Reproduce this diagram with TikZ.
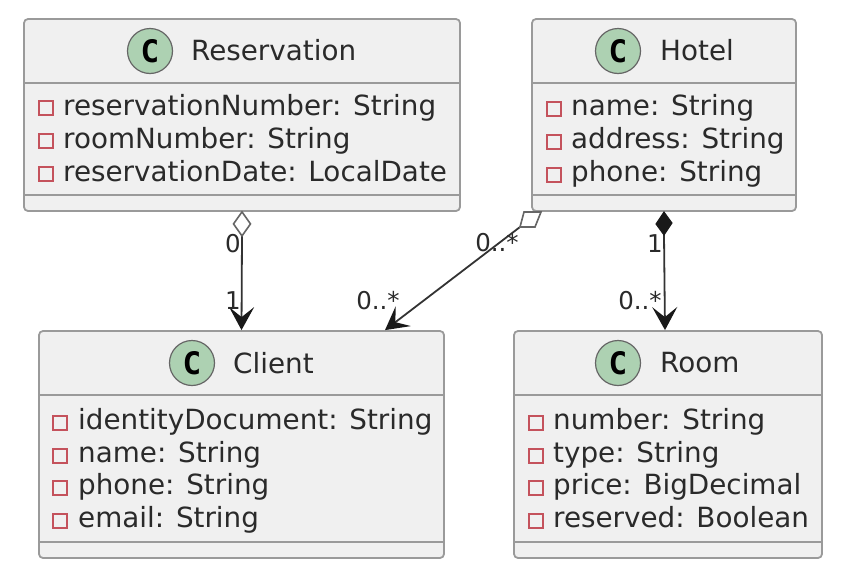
\documentclass[tikz,border=0pt]{standalone}
\usepackage{fontspec}
\setmainfont{DejaVu Sans}
\newfontfamily\spotfont{DejaVu Sans Mono}
\usetikzlibrary{arrows.meta}
\definecolor{boxfill}{HTML}{F0F0F0}
\definecolor{boxline}{HTML}{9A9A9A}
\definecolor{spotfill}{HTML}{ADD1B2}
\definecolor{privred}{HTML}{C4525C}
\definecolor{inktext}{HTML}{2A2A2A}
\tikzset{
    classbox/.style={draw=boxline, fill=boxfill, line width=1.8pt, rounded corners=4pt, inner sep=0pt},
    spot/.style={circle, draw=black!60, fill=spotfill, line width=1.2pt, minimum size=45pt, inner sep=0pt, font=\fontsize{31}{31}\spotfont\bfseries, text=black},
    title/.style={anchor=west, inner sep=0pt, text=inktext, font=\fontsize{27.8}{32}\selectfont},
    member/.style={anchor=base west, inner sep=0pt, text=inktext, font=\fontsize{27.8}{32}\selectfont},
    priv/.style={draw=privred, line width=1.6pt, minimum size=14pt, inner sep=0pt},
    mult/.style={inner sep=0pt, text=inktext, font=\fontsize{24.5}{28}\selectfont},
    rel/.style={draw=black!80, line width=1.8pt},
    head/.style={-{Stealth[length=23pt, width=25pt, inset=10pt, color=black!90]}},
    aggr/.style={draw=black!60, fill=white, line width=1.6pt},
    comp/.style={draw=black!90, fill=black!90, line width=1pt}
}
% box: name, left, top, right, bottom
\newcommand{\umlbox}[5]{
    \node[classbox, minimum width=#4pt-#2pt, minimum height=#5pt-#3pt] (#1) at ({(#2+#4)/2}, {-(#3+#5)/2}) {};
    \draw[boxline, line width=1.8pt] (#1.west |- 0,{-#3-64}) -- (#1.east |- 0,{-#3-64});
    \draw[boxline, line width=1.8pt] (#1.west |- 0,{-#5+16}) -- (#1.east |- 0,{-#5+16});
}
\begin{document}
\begin{tikzpicture}[x=1pt, y=1pt]
    \useasboundingbox (0,0) rectangle (844,-576);

    % classes
    \umlbox{reservation}{24}{19}{460}{211}
    \umlbox{hotel}{532}{19}{796}{211}
    \umlbox{client}{39}{331}{444}{558}
    \umlbox{room}{514}{331}{822}{558}

    \node[spot] (reservationSpot) at (150,-51) {C};
    \node[title] (reservationTitle) at (191,-50) {Reservation};
    \node[spot] (hotelSpot) at (618,-51) {C};
    \node[title] (hotelTitle) at (660,-50) {Hotel};
    \node[spot] (clientSpot) at (192,-363) {C};
    \node[title] (clientTitle) at (233,-363) {Client};
    \node[spot] (roomSpot) at (618,-363) {C};
    \node[title] (roomTitle) at (660,-363) {Room};

    % members
    \foreach \n/\y/\txt in {a/115/reservationNumber: String, b/148/roomNumber: String, c/181/reservationDate: LocalDate} {
        \node[priv] (reservationIcon\n) at (46,-\y+7) {};
        \node[member] (reservationMember\n) at (63,-\y) {\txt};
    }
    \foreach \n/\y/\txt in {a/115/name: String, b/148/address: String, c/181/phone: String} {
        \node[priv] (hotelIcon\n) at (554,-\y+6) {};
        \node[member] (hotelMember\n) at (571,-\y) {\txt};
    }
    \foreach \n/\y/\txt in {a/429/identityDocument: String, b/462/name: String, c/494/phone: String, d/527/email: String} {
        \node[priv] (clientIcon\n) at (60,-\y+6) {};
        \node[member] (clientMember\n) at (78,-\y) {\txt};
    }
    \foreach \n/\y/\txt in {a/429/number: String, b/462/type: String, c/494/price: BigDecimal, d/527/reserved: Boolean} {
        \node[priv] (roomIcon\n) at (536,-\y+6) {};
        \node[member] (roomMember\n) at (553,-\y) {\txt};
    }

    % relations
    \coordinate (resDiamond) at ([yshift=-24pt]reservation.south);
    \coordinate (hotelDiamond) at (520,-227);
    \coordinate (roomDiamond) at (664,-235);

    \draw[rel, head] (resDiamond) -- (client.north);
    \draw[rel, head] (hotelDiamond) -- ([xshift=143.5pt]client.north);
    \draw[rel, head] (roomDiamond) -- ([xshift=-3pt]room.north);

    \draw[aggr] (reservation.south) -- ++(8.5,-12) -- (resDiamond) -- ++(-8.5,12) -- cycle;
    \draw[aggr] (hotelDiamond) -- (535,-227) -- (541,-212) -- (524,-212) -- cycle;
    \draw[comp] (664,-212) -- ++(8,-11) -- (roomDiamond) -- ++(-8,11) -- cycle;

    % multiplicities
    \node[mult] (m0) at (233,-244) {0};
    \node[mult] (m1) at (233,-301) {1};
    \node[mult] (m2) at (497,-243) {0..*};
    \node[mult] (m3) at (378,-301) {0..*};
    \node[mult] (m4) at (655,-244) {1};
    \node[mult] (m5) at (640,-301) {0..*};
\end{tikzpicture}
\end{document}
